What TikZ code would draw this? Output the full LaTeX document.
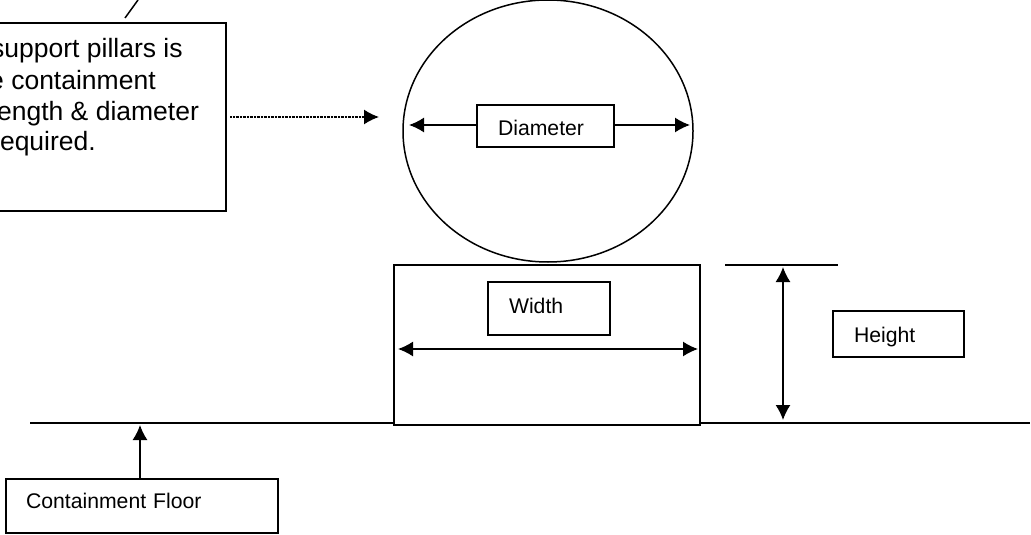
\documentclass[tikz,border=0pt]{standalone}
\usepackage{fontspec}
\setmainfont{Liberation Sans}
\usetikzlibrary{arrows.meta,shapes.geometric}
\tikzset{
  ln/.style={draw=black,line width=1.5pt,outer sep=0pt},
  lab/.style={ln,anchor=north west,inner sep=0pt,align=left,font=\fontsize{21.2}{24}\selectfont},
  big/.style={anchor=base west,inner sep=0pt,font=\fontsize{26.5}{30}\selectfont},
  arr/.style={ln,-{Latex[length=15pt,width=15pt]}},
  dbl/.style={ln,{Latex[length=15pt,width=15pt]}-{Latex[length=15pt,width=15pt]}}
}
\begin{document}
\begin{tikzpicture}[x=1pt,y=-1pt]
\useasboundingbox (0,0) rectangle (1031,535);
\fill[white] (0,0) rectangle (1031,535);
% circle
\node (circ) [ln,ellipse,inner sep=0pt,minimum width=290pt,minimum height=262pt] at (548,131) {};
\node (dia) [lab,text width=137pt,text height=30pt,text depth=12pt] at (477,105) {\hspace*{21pt}Diameter};
\coordinate (cl) at (409,125);
\coordinate (cr) at (690,125);
\draw[arr] (dia.west |- cl) -- (cl);
\draw[arr] (dia.east |- cr) -- (cr);
% note box
\node (note) [ln,minimum width=246pt,minimum height=188pt,inner sep=0pt,anchor=north west] at (-20,23) {};
\node (n1) [big] at (-9,58) {support pillars is};
\node (n2) [big] at (-11,89) {e containment};
\node (n3) [big] at (-9,120) {length \& diameter};
\node (n4) [big] at (-9,150) {required.};
\coordinate (nT) at (379,117);
\draw[ln,dash pattern=on 1pt off 0.4pt,-{Latex[length=15pt,width=15pt]}] (note.east |- nT) ++(4,0) -- (nT);
\coordinate (s1) at (125,18);
\coordinate (s2) at (138,0);
\draw[ln] (s1) -- (s2);
% rect
\node (rectb) [ln,minimum width=306pt,minimum height=160pt,inner sep=0pt,anchor=north west] at (394,265) {};
\node (wid) [lab,text width=122pt,text height=31pt,text depth=22pt] at (488,282) {\hspace*{21pt}Width};
\coordinate (wl) at (398,349);
\coordinate (wr) at (698,349);
\draw[dbl] (wl) -- (wr);
% height
\coordinate (ht) at (725,265);
\coordinate (ht2) at (838,265);
\draw[ln] (ht) -- (ht2);
\coordinate (ha) at (783,267);
\coordinate (hb) at (783,420);
\draw[dbl] (ha) -- (hb);
\node (hgt) [lab,text width=131pt,text height=31pt,text depth=15pt] at (833,311) {\hspace*{21pt}Height};
% floor
\coordinate (f1) at (30,423);
\coordinate (f2) at (1030,423);
\draw[ln] (f1) -- (rectb.west |- f1);
\draw[ln] (rectb.east |- f2) -- (f2);
\node (flo) [lab,text width=272pt,text height=29pt,text depth=25pt] at (6,479) {\hspace*{20pt}Containment Floor};
\coordinate (fa) at (140,425);
\draw[arr] (flo.north -| fa) -- (fa);
\end{tikzpicture}
\end{document}
